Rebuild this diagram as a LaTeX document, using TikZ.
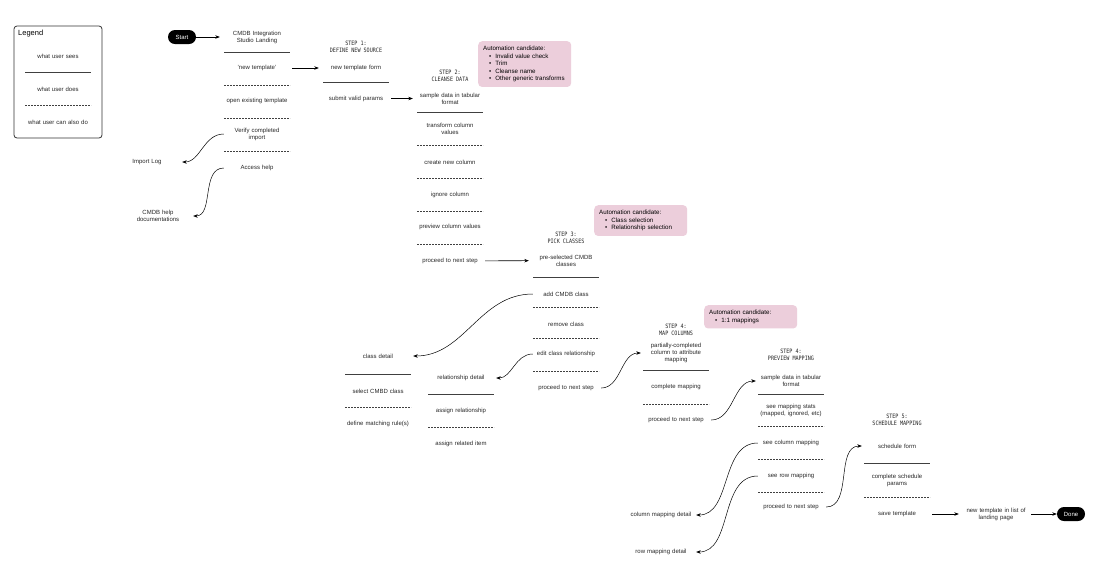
\documentclass[tikz,border=0pt]{standalone}
\usepackage{fontspec}
\setmainfont{Liberation Sans}
\newfontfamily\stepfont[FakeStretch=0.85]{DejaVu Sans Mono}
\usetikzlibrary{arrows.meta, positioning}
\definecolor{autopink}{RGB}{236, 206, 219}
\definecolor{inkgray}{RGB}{40, 40, 40}

\begin{document}
\begin{tikzpicture}[
  x=1pt, y=-1pt,
  txt/.style={font=\fontsize{6}{7}\selectfont, text=inkgray, align=center, text width=66pt, inner sep=0pt},
  stephead/.style={font=\stepfont\fontsize{6}{6.8}\selectfont, text=inkgray, align=center, inner sep=0pt},
  pill/.style={fill=black, text=white, rounded corners=7pt, minimum width=28pt, minimum height=14pt, inner sep=0pt, font=\fontsize{6}{7}\selectfont},
  autobox/.style={fill=autopink, rounded corners=4pt, anchor=north west, text width=83pt, inner sep=5pt, align=left, font=\fontsize{6.2}{7.5}\selectfont},
  solidsep/.style={draw=black!75, line width=0.8pt},
  dashsep/.style={draw=black!75, line width=0.6pt, dash pattern=on 1.8pt off 1.2pt},
  flow/.style={-{Stealth[length=4.5pt,width=3.5pt]}, line width=0.6pt, shorten <=2pt, shorten >=4pt},
  backlink/.style={-{Stealth[length=4.5pt,width=3.5pt]}, line width=0.5pt, shorten >=2pt, out=180, in=0},
  nextlink/.style={-{Stealth[length=4.5pt,width=3.5pt]}, line width=0.5pt, shorten <=2pt, shorten >=2pt, out=0, in=180}
]
  \useasboundingbox[fill=white] (0,0) rectangle (1100,566);

  % legend
  \draw[black!80, line width=0.8pt, rounded corners=3pt] (14,26) rectangle (102,138);
  \node[font=\fontsize{7.5}{9}\selectfont, anchor=west, inner sep=0pt] (legtitle) at (18,34) {Legend};
  \node[txt] (legsees) at (58,56) {what user sees};
  \draw[solidsep] (25,72) -- (91,72);
  \node[txt] (legdoes) at (58,89) {what user does};
  \draw[dashsep] (25,105) -- (91,105);
  \node[txt] (legalso) at (58,122) {what user can also do};

  % landing
  \node[pill] (start) at (182,37) {Start};
  \node[txt] (land) at (257,37) {CMDB Integration\\Studio Landing};
  \draw[solidsep] (224,52) -- (290,52);
  \node[txt] (newtpl) at (257,68) {'new template'};
  \draw[dashsep] (224,85) -- (290,85);
  \node[txt] (opentpl) at (257,101) {open existing template};
  \draw[dashsep] (224,118) -- (290,118);
  \node[txt] (verify) at (257,134) {Verify completed\\import};
  \draw[dashsep] (224,151) -- (290,151);
  \node[txt] (help) at (257,168) {Access help};
  \node[txt] (implog) at (147,162) {Import Log};
  \node[txt] (helpdocs) at (158,216) {CMDB help\\documentations};

  % step 1
  \node[stephead] (step1) at (356,47) {STEP 1:\\DEFINE NEW SOURCE};
  \node[txt] (tplform) at (356,68) {new template form};
  \draw[solidsep] (323,82) -- (389,82);
  \node[txt] (submit) at (356,98.5) {submit valid params};

  % step 2
  \node[stephead] (step2) at (450,76) {STEP 2:\\CLEANSE DATA};
  \node[txt] (cleansample) at (450,98.5) {sample data in tabular\\format};
  \draw[solidsep] (417,112) -- (483,112);
  \node[txt] (transform) at (450,129) {transform column\\values};
  \draw[dashsep] (417,145) -- (483,145);
  \node[txt] (newcol) at (450,162) {create new column};
  \draw[dashsep] (417,178) -- (483,178);
  \node[txt] (ignorecol) at (450,195) {ignore column};
  \draw[dashsep] (417,211) -- (483,211);
  \node[txt] (previewcol) at (450,227) {preview column values};
  \draw[dashsep] (417,244) -- (483,244);
  \node[txt] (next2) at (450,261) {proceed to next step};
  \node[autobox] (auto2) at (478,41) {Automation candidate:\\
    \hspace*{6pt}\textbullet\hspace{4pt}Invalid value check\\
    \hspace*{6pt}\textbullet\hspace{4pt}Trim\\
    \hspace*{6pt}\textbullet\hspace{4pt}Cleanse name\\
    \hspace*{6pt}\textbullet\hspace{4pt}Other generic transforms};

  % step 3
  \node[stephead] (step3) at (566,238) {STEP 3:\\PICK CLASSES};
  \node[txt] (preclass) at (566,260.5) {pre-selected CMDB\\classes};
  \draw[solidsep] (533,277) -- (599,277);
  \node[txt] (addclass) at (566,294) {add CMDB class};
  \draw[dashsep] (533,307) -- (599,307);
  \node[txt] (rmclass) at (566,324) {remove class};
  \draw[dashsep] (533,338) -- (599,338);
  \node[txt] (editrel) at (566,354) {edit class relationship};
  \draw[dashsep] (533,371) -- (599,371);
  \node[txt] (next3) at (566,388) {proceed to next step};
  \node[autobox] (auto3) at (594,205) {Automation candidate:\\
    \hspace*{6pt}\textbullet\hspace{4pt}Class selection\\
    \hspace*{6pt}\textbullet\hspace{4pt}Relationship selection};

  \node[txt] (classdet) at (378,356) {class detail};
  \draw[solidsep] (345,374) -- (411,374);
  \node[txt] (selclass) at (378,391) {select CMBD class};
  \draw[dashsep] (345,407) -- (411,407);
  \node[txt] (matchrule) at (378,424) {define matching rule(s)};

  \node[txt] (reldet) at (461,378) {relationship detail};
  \draw[solidsep] (428,394) -- (494,394);
  \node[txt] (assignrel) at (461,411) {assign relationship};
  \draw[dashsep] (428,427) -- (494,427);
  \node[txt] (relitem) at (461,444) {assign related item};

  % step 4
  \node[stephead] (step4) at (676,330) {STEP 4:\\MAP COLUMNS};
  \node[txt] (partial) at (676,353) {partially-completed\\column to attribute\\mapping};
  \draw[solidsep] (643,370) -- (709,370);
  \node[txt] (complmap) at (676,387) {complete mapping};
  \draw[dashsep] (643,404) -- (709,404);
  \node[txt] (next4) at (676,420) {proceed to next step};
  \node[autobox] (auto4) at (704,305) {Automation candidate:\\
    \hspace*{6pt}\textbullet\hspace{4pt}1:1 mappings};

  \node[stephead] (step4b) at (791,355) {STEP 4:\\PREVIEW MAPPING};
  \node[txt] (prevsample) at (791,381) {sample data in tabular\\format};
  \draw[solidsep] (758,394) -- (824,394);
  \node[txt] (mapstats) at (791,410) {see mapping stats\\(mapped, ignored, etc)};
  \draw[dashsep] (758,426) -- (824,426);
  \node[txt] (seecol) at (791,443) {see column mapping};
  \draw[dashsep] (758,459) -- (824,459);
  \node[txt] (seerow) at (791,476) {see row mapping};
  \draw[dashsep] (758,492) -- (824,492);
  \node[txt] (next4b) at (791,507) {proceed to next step};
  \node[txt] (coldet) at (661,515) {column mapping detail};
  \node[txt] (rowdet) at (661,552) {row mapping detail};

  % step 5
  \node[stephead] (step5) at (897,420) {STEP 5:\\SCHEDULE MAPPING};
  \node[txt] (schedform) at (897,446) {schedule form};
  \draw[solidsep] (864,463) -- (930,463);
  \node[txt] (schedparams) at (897,480) {complete schedule\\params};
  \draw[dashsep] (864,497) -- (930,497);
  \node[txt] (savetpl) at (897,514) {save template};
  \node[txt] (listed) at (996,514) {new template in list of\\landing page};
  \node[pill] (done) at (1071,514) {Done};

  % connectors
  \draw[flow, shorten <=0pt] (start) -- (land);
  \draw[flow] (newtpl) -- (tplform);
  \draw[flow] (submit) -- (cleansample);
  \draw[flow] (next2) -- (preclass);
  \draw[flow] (savetpl) -- (listed);
  \draw[flow, shorten >=0pt] (listed) -- (done);

  \draw[backlink] (verify.west) to (implog.east);
  \draw[backlink] (help.west) to (helpdocs.east);
  \draw[backlink] (addclass.west) to (classdet.east);
  \draw[backlink] (editrel.west) to (reldet.east);
  \draw[nextlink] (next3.east) to (partial.west);
  \draw[nextlink] (next4.east) to (prevsample.west);
  \draw[backlink] (seecol.west) to (coldet.east);
  \draw[backlink] (seerow.west) to (rowdet.east);
  \draw[nextlink] (next4b.east) to (schedform.west);
\end{tikzpicture}
\end{document}
